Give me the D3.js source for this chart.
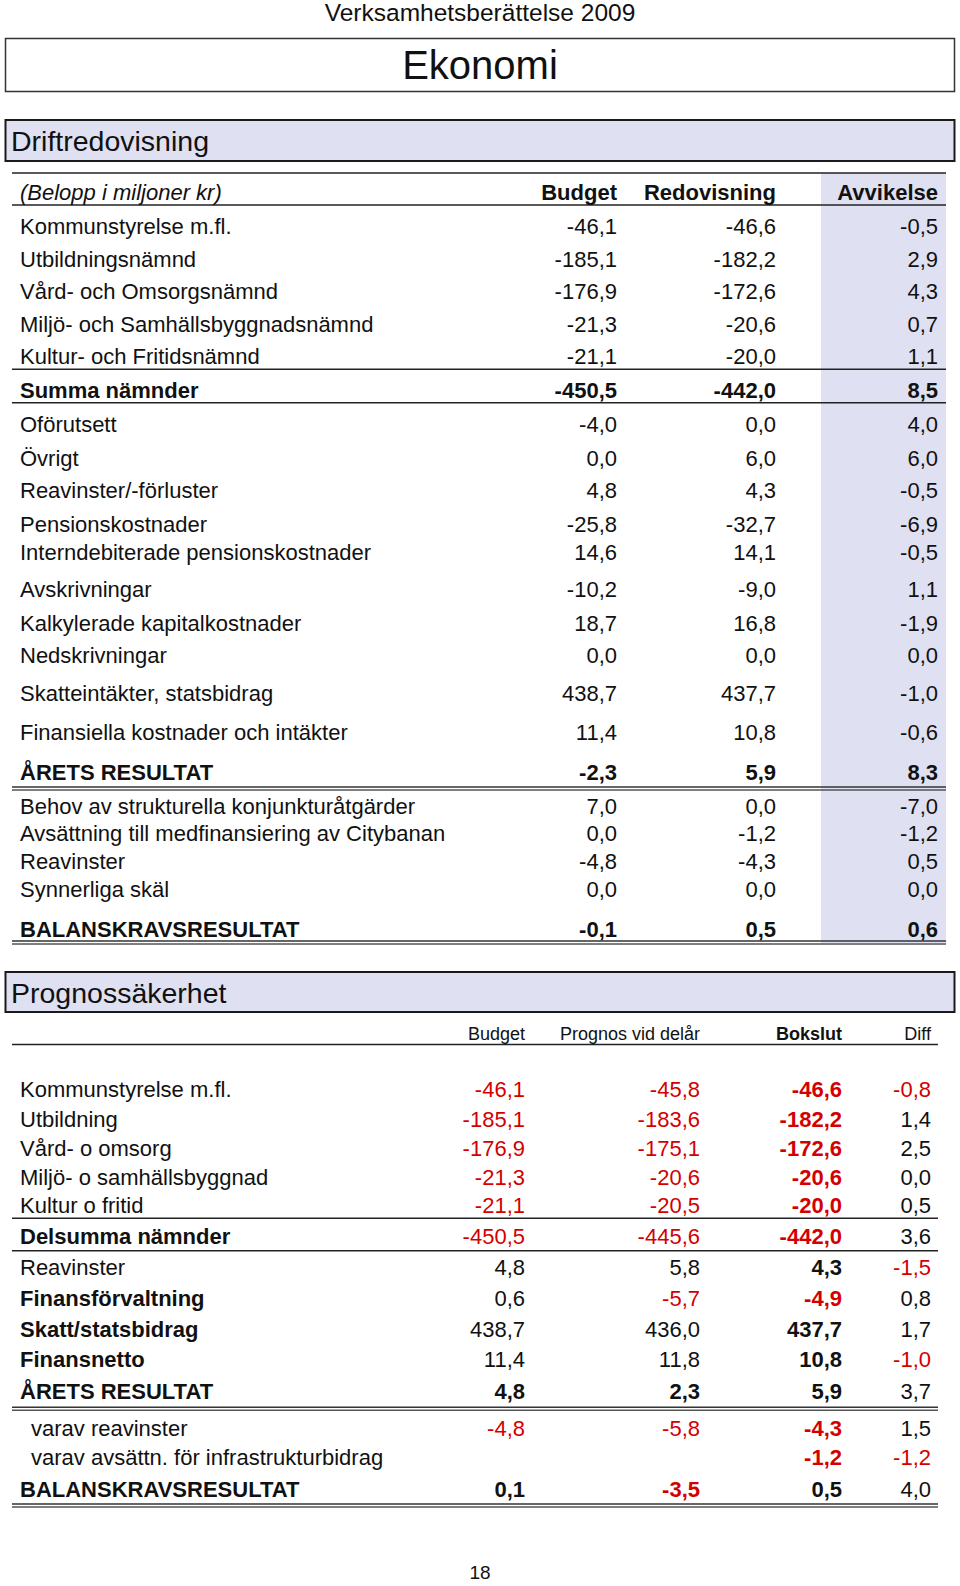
<!DOCTYPE html>
<html>
<head>
<meta charset="utf-8">
<script src="https://cdn.jsdelivr.net/npm/d3@7"></script>
<style>
  html, body { margin: 0; padding: 0; background: #fff; }
  svg { display: block; font-family: "Liberation Sans", Arial, Helvetica, sans-serif; }
</style>
</head>
<body>
<div id="chart"></div>
<script>
// ---------------- DATA ----------------
const pageHeader = "Verksamhetsberättelse 2009";
const pageTitle = "Ekonomi";
const pageNumber = "18";

// Table 1: Driftredovisning
const driftTitle = "Driftredovisning";
const driftUnitLabel = "(Belopp i miljoner kr)";
const driftColumns = ["Budget", "Redovisning", "Avvikelse"];
const driftLabels = [
  "Kommunstyrelse m.fl.", "Utbildningsnämnd", "Vård- och Omsorgsnämnd",
  "Miljö- och Samhällsbyggnadsnämnd", "Kultur- och Fritidsnämnd", "Summa nämnder",
  "Oförutsett", "Övrigt", "Reavinster/-förluster", "Pensionskostnader",
  "Interndebiterade pensionskostnader", "Avskrivningar", "Kalkylerade kapitalkostnader",
  "Nedskrivningar", "Skatteintäkter, statsbidrag", "Finansiella kostnader och intäkter",
  "ÅRETS RESULTAT", "Behov av strukturella konjunkturåtgärder",
  "Avsättning till medfinansiering av Citybanan", "Reavinster", "Synnerliga skäl",
  "BALANSKRAVSRESULTAT"
];
const driftBudget = [-46.1, -185.1, -176.9, -21.3, -21.1, -450.5, -4.0, 0.0, 4.8, -25.8, 14.6,
  -10.2, 18.7, 0.0, 438.7, 11.4, -2.3, 7.0, 0.0, -4.8, 0.0, -0.1];
const driftRedovisning = [-46.6, -182.2, -172.6, -20.6, -20.0, -442.0, 0.0, 6.0, 4.3, -32.7, 14.1,
  -9.0, 16.8, 0.0, 437.7, 10.8, 5.9, 0.0, -1.2, -4.3, 0.0, 0.5];
const driftAvvikelse = [-0.5, 2.9, 4.3, 0.7, 1.1, 8.5, 4.0, 6.0, -0.5, -6.9, -0.5,
  1.1, -1.9, 0.0, -1.0, -0.6, 8.3, -7.0, -1.2, 0.5, 0.0, 0.6];
const driftBoldRows = ["Summa nämnder", "ÅRETS RESULTAT", "BALANSKRAVSRESULTAT"];

// Table 2: Prognossäkerhet
const progTitle = "Prognossäkerhet";
const progColumns = ["Budget", "Prognos vid delår", "Bokslut", "Diff"];
const progLabels = [
  "Kommunstyrelse m.fl.", "Utbildning", "Vård- o omsorg", "Miljö- o samhällsbyggnad",
  "Kultur o fritid", "Delsumma nämnder", "Reavinster", "Finansförvaltning",
  "Skatt/statsbidrag", "Finansnetto", "ÅRETS RESULTAT", "varav reavinster",
  "varav avsättn. för infrastrukturbidrag", "BALANSKRAVSRESULTAT"
];
const progBudget = [-46.1, -185.1, -176.9, -21.3, -21.1, -450.5, 4.8, 0.6, 438.7, 11.4, 4.8, -4.8, null, 0.1];
const progPrognos = [-45.8, -183.6, -175.1, -20.6, -20.5, -445.6, 5.8, -5.7, 436.0, 11.8, 2.3, -5.8, null, -3.5];
const progBokslut = [-46.6, -182.2, -172.6, -20.6, -20.0, -442.0, 4.3, -4.9, 437.7, 10.8, 5.9, -4.3, -1.2, 0.5];
const progDiff = [-0.8, 1.4, 2.5, 0.0, 0.5, 3.6, -1.5, 0.8, 1.7, -1.0, 3.7, 1.5, -1.2, 4.0];
const progBoldLabels = ["Delsumma nämnder", "Finansförvaltning", "Skatt/statsbidrag", "Finansnetto",
  "ÅRETS RESULTAT", "BALANSKRAVSRESULTAT"];
const progBoldValueRows = ["ÅRETS RESULTAT", "BALANSKRAVSRESULTAT"];
const progIndentRows = ["varav reavinster", "varav avsättn. för infrastrukturbidrag"];

// ---------------- LAYOUT ----------------
const W = 960, H = 1586;
const FONT = 22;
const RED = "#d40000";
const LAV = "#dfe1f2";

// row steps (spreadsheet row heights, pixels)
const driftFirstBaseline = 234;
const driftSteps = [32.7, 32.3, 32.7, 32.3, 34.3, 34, 33.4, 32.6, 33.2, 28.2, 37.6, 33.3, 32.4, 38.3, 38.5, 39.7, 34.2, 27.5, 27.4, 28.4, 39.8];
const progFirstBaseline = 1097.3;
const progSteps = [29.2, 29.2, 28.8, 28, 31.8, 30.7, 31, 30.7, 30.6, 32, 36.7, 29, 32.3];

const fmtLocale = d3.formatLocale({decimal: ",", thousands: " ", grouping: [3], currency: ["", " kr"], minus: "-"});
const fmt = v => (v === null || v === undefined) ? "" : fmtLocale.format(".1f")(v);

const svg = d3.select("#chart").append("svg").attr("width", W).attr("height", H);

// Page header
svg.append("text").attr("x", 480).attr("y", 21).attr("text-anchor", "middle")
  .attr("font-size", 24.5).attr("fill", "#111").text(pageHeader);

// Title box
svg.append("rect").attr("x", 5.5).attr("y", 38.5).attr("width", 949).attr("height", 53)
  .attr("fill", "#fff").attr("stroke", "#333").attr("stroke-width", 1.5);
svg.append("text").attr("x", 480).attr("y", 79).attr("text-anchor", "middle")
  .attr("font-size", 40).attr("fill", "#111").text(pageTitle);

function sectionBox(y0, y1, title) {
  svg.append("rect").attr("x", 5.5).attr("y", y0).attr("width", 949).attr("height", y1 - y0)
    .attr("fill", LAV).attr("stroke", "#1a1a1a").attr("stroke-width", 2);
  svg.append("text").attr("x", 11).attr("y", y0 + 31).attr("font-size", 28.5).attr("fill", "#111").text(title);
}

function hline(y, x0, x1, w, color) {
  svg.append("line").attr("x1", x0).attr("x2", x1).attr("y1", y).attr("y2", y)
    .attr("stroke", color || "#222").attr("stroke-width", w || 1.5);
}
function dline(y, x0, x1) {
  hline(y, x0, x1, 1.6, "#333");
  hline(y + 3, x0, x1, 1.6, "#555");
}

// ---------------- TABLE 1 ----------------
sectionBox(120, 161, driftTitle);

const driftY = d3.scaleLinear()
  .domain([0, d3.sum(driftSteps)])
  .range([driftFirstBaseline, driftFirstBaseline + d3.sum(driftSteps)]);
const driftCum = [0, ...d3.cumsum(driftSteps)];
const driftX = d3.scaleOrdinal().domain(driftColumns).range([617, 776, 938]);

const driftTableTop = 173, driftTableBottom = 943;
// shaded Avvikelse column
svg.append("rect").attr("x", 821).attr("y", driftTableTop).attr("width", 125)
  .attr("height", driftTableBottom - driftTableTop).attr("fill", LAV);

hline(driftTableTop, 12, 946);
hline(205, 12, 946);

svg.append("text").attr("x", 20).attr("y", 200).attr("font-size", FONT)
  .attr("font-style", "italic").attr("fill", "#111").text(driftUnitLabel);
svg.selectAll("text.dh").data(driftColumns).join("text").attr("class", "dh")
  .attr("x", d => driftX(d)).attr("y", 200).attr("text-anchor", "end")
  .attr("font-size", FONT).attr("font-weight", "bold").attr("fill", "#111").text(d => d);

const driftRows = driftLabels.map((label, i) => ({
  label, i, y: driftY(driftCum[i]), bold: driftBoldRows.includes(label),
  vals: [driftBudget[i], driftRedovisning[i], driftAvvikelse[i]]
}));

const dg = svg.append("g").selectAll("g").data(driftRows).join("g")
  .attr("transform", d => `translate(0,${d.y})`);
dg.append("text").attr("x", 20).attr("font-size", FONT).attr("fill", "#111")
  .attr("font-weight", d => d.bold ? "bold" : "normal").text(d => d.label);
dg.selectAll("text.v").data(d => d.vals.map((v, j) => ({v, col: driftColumns[j], bold: d.bold})))
  .join("text").attr("class", "v")
  .attr("x", d => driftX(d.col)).attr("text-anchor", "end").attr("font-size", FONT)
  .attr("fill", "#111").attr("font-weight", d => d.bold ? "bold" : "normal").text(d => fmt(d.v));

// separators in table 1
hline(369.3, 12, 946);
hline(402.7, 12, 946);
dline(787, 12, 946);
dline(941, 12, 946);

// ---------------- TABLE 2 ----------------
sectionBox(972, 1012, progTitle);

const progX = d3.scaleOrdinal().domain(progColumns).range([525, 700, 842, 931]);
const progCum = [0, ...d3.cumsum(progSteps)];
const progY = d3.scaleLinear()
  .domain([0, d3.sum(progSteps)])
  .range([progFirstBaseline, progFirstBaseline + d3.sum(progSteps)]);

svg.selectAll("text.ph").data(progColumns).join("text").attr("class", "ph")
  .attr("x", d => progX(d)).attr("y", 1040).attr("text-anchor", "end")
  .attr("font-size", 18).attr("fill", "#111")
  .attr("font-weight", d => d === "Bokslut" ? "bold" : "normal").text(d => d);
hline(1044.5, 12, 938);

const progRows = progLabels.map((label, i) => ({
  label, i, y: progY(progCum[i]),
  boldLabel: progBoldLabels.includes(label),
  boldVals: progBoldValueRows.includes(label),
  indent: progIndentRows.includes(label),
  vals: [progBudget[i], progPrognos[i], progBokslut[i], progDiff[i]]
}));

const pg = svg.append("g").selectAll("g").data(progRows).join("g")
  .attr("transform", d => `translate(0,${d.y})`);
pg.append("text").attr("x", d => d.indent ? 31 : 20).attr("font-size", FONT).attr("fill", "#111")
  .attr("font-weight", d => d.boldLabel ? "bold" : "normal").text(d => d.label);
pg.selectAll("text.v").data(d => d.vals.map((v, j) => ({
    v, col: progColumns[j],
    bold: progColumns[j] === "Bokslut" || (d.boldVals && progColumns[j] !== "Diff")
  })))
  .join("text").attr("class", "v")
  .attr("x", d => progX(d.col)).attr("text-anchor", "end").attr("font-size", FONT)
  .attr("fill", d => (d.v !== null && d.v < 0) ? RED : "#111")
  .attr("font-weight", d => d.bold ? "bold" : "normal").text(d => fmt(d.v));

hline(1218.3, 12, 938);
hline(1250.7, 12, 938);
dline(1407.3, 12, 938);
dline(1504, 12, 938);

// page number
svg.append("text").attr("x", 480).attr("y", 1579).attr("text-anchor", "middle")
  .attr("font-size", 19).attr("fill", "#111").text(pageNumber);
</script>
</body>
</html>
